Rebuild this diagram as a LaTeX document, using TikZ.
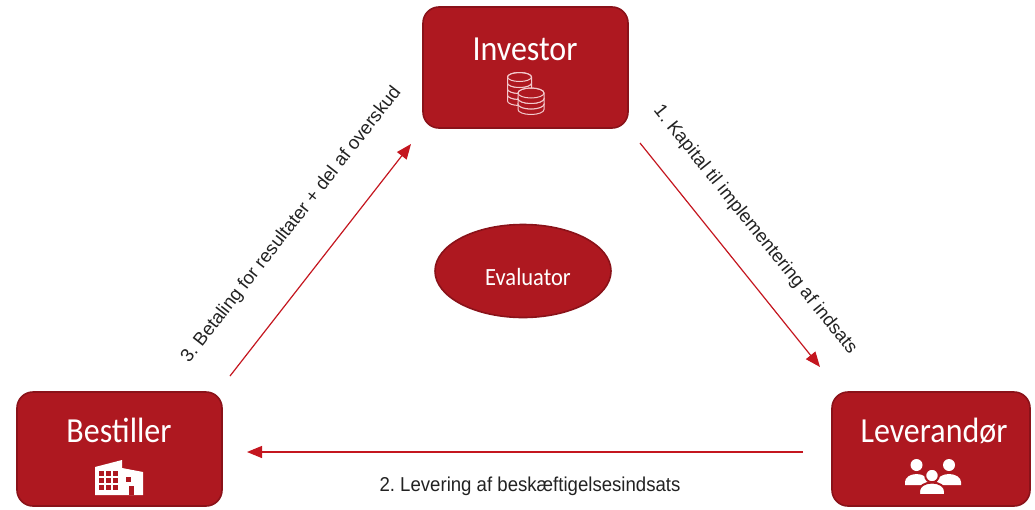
\documentclass[tikz,border=0pt]{standalone}
\usepackage{fontspec}
\setmainfont{Liberation Sans}
\newfontfamily\boxfont{Carlito}
\usetikzlibrary{arrows.meta,shapes.geometric}
\definecolor{boxred}{HTML}{AE1820}
\definecolor{boxedge}{HTML}{8A1219}
\definecolor{arrowred}{HTML}{C4161F}
\definecolor{labelgray}{HTML}{222222}
\definecolor{coinpink}{HTML}{F3CACD}
\frenchspacing
\begin{document}
\begin{tikzpicture}[x=1pt,y=-1pt,
  box/.style={draw=boxedge,line width=1.6pt,fill=boxred,rounded corners=16pt,inner sep=0pt},
  boxlabel/.style={text=white,font=\boxfont\fontsize{32}{36}\selectfont,inner sep=0pt,anchor=base},
  flow/.style={draw=arrowred,line width=1.2pt,-{Triangle[length=15pt,width=12pt]}},
  flowlabel/.style={font=\fontsize{18.6}{22}\selectfont,text=labelgray,inner sep=0pt},
  coin/.style={fill=boxred,draw=coinpink,line width=1pt},
  iconwhite/.style={fill=white}]
\useasboundingbox (0,0) rectangle (1035,509);

% boxes
\node[box,minimum width=205pt,minimum height=121pt] (inv) at (525.5,67.5) {};
\node[box,minimum width=205pt,minimum height=114pt] (bes) at (119.5,449) {};
\node[box,minimum width=198pt,minimum height=114pt] (lev) at (931,449) {};
\node[ellipse,draw=boxedge,fill=boxred,line width=1.6pt,minimum width=176pt,minimum height=93pt,inner sep=0pt] (eva) at (523,271) {};

% box texts
\node[boxlabel] (invT) at (525,60) {\scalebox{1}[1.1]{Investor}};
\node[boxlabel] (besT) at (119,442) {\scalebox{1}[1.1]{Bestiller}};
\node[boxlabel] (levT) at (934,442) {\scalebox{1}[1.1]{Leverandør}};
\node[text=white,font=\boxfont\fontsize{22.5}{26}\selectfont,inner sep=0pt,anchor=base] (evaT) at (528,285) {\scalebox{1}[1.1]{Evaluator}};

% coins icon (Investor)
\foreach \k in {3,2,1,0}{
  \pgfmathsetmacro{\cy}{77+6*\k}
  \filldraw[coin] (507.5,\cy) -- (507.5,\cy+6) arc[start angle=180,end angle=0,x radius=12,y radius=4.5] -- (531.5,\cy) arc[start angle=0,end angle=-180,x radius=12,y radius=4.5] -- cycle;
  \draw[coinpink,line width=1pt] (519.5,\cy) ellipse [x radius=12,y radius=4.5];
}
\foreach \k in {2,1,0}{
  \pgfmathsetmacro{\cy}{93+5.5*\k}
  \filldraw[coin] (518,\cy) -- (518,\cy+5.5) arc[start angle=180,end angle=0,x radius=13,y radius=5] -- (544,\cy) arc[start angle=0,end angle=-180,x radius=13,y radius=5] -- cycle;
  \draw[coinpink,line width=1pt] (531,\cy) ellipse [x radius=13,y radius=5];
}

% building icon (Bestiller)
\fill[iconwhite] (95,495) -- (95,467) -- (122,460) -- (122,495) -- cycle;
\fill[iconwhite] (122,495) -- (122,468) -- (143,472) -- (143,495) -- cycle;
\foreach \i in {0,1,2}{\foreach \j in {0,1,2}{
  \fill[boxred] (99+7*\i,471+7*\j) rectangle ++(5,5);
}}
\fill[boxred] (126,477) rectangle (131,482);
\fill[boxred] (129,486) rectangle (134,495);

% people icon (Leverandor)
\fill[iconwhite] (905,485) -- (905,482) arc[start angle=180,end angle=360,x radius=11.5,y radius=8] -- (928,485) -- cycle;
\fill[iconwhite] (937,485) -- (937,482) arc[start angle=180,end angle=360,x radius=12,y radius=8] -- (961,485) -- cycle;
\fill[iconwhite] (916.5,465) circle[radius=6];
\fill[iconwhite] (949,465) circle[radius=6];
\filldraw[iconwhite,draw=boxred,line width=2pt] (919,495) -- (919,491) arc[start angle=180,end angle=360,x radius=13,y radius=8.5] -- (945,495) -- cycle;
\filldraw[iconwhite,draw=boxred,line width=2pt] (932,475.5) circle[radius=6.8];

% connectors
\coordinate (a1s) at (640,143);
\coordinate (a1e) at (820,367);
\coordinate (a2s) at (803,452);
\coordinate (a2e) at (247,452);
\coordinate (a3s) at (230,376);
\coordinate (a3e) at (411,144);
\draw[flow] (a1s) -- (a1e);
\draw[flow] (a2s) -- (a2e);
\draw[flow] (a3s) -- (a3e);

% connector labels
\node[flowlabel,rotate=-51.2] (l1) at (755,230) {1. Kapital til implementering af indsats};
\node[flowlabel] (l2) at (530,486) {\scalebox{1}[1.08]{2. Levering af beskæftigelsesindsats}};
\node[flowlabel,rotate=52] (l3) at (291.5,225) {3. Betaling for resultater + del af overskud};
\end{tikzpicture}
\end{document}
